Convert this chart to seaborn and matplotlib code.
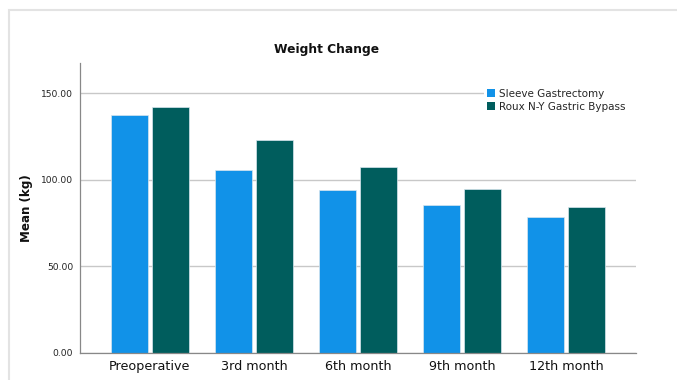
import matplotlib
matplotlib.use("Agg")
import matplotlib.pyplot as plt
import seaborn as sns
import pandas as pd
from matplotlib.patches import Rectangle, Patch

categories = ["Preoperative", "3rd month", "6th month", "9th month", "12th month"]
groups = ["Sleeve Gastrectomy", "Roux N-Y Gastric Bypass"]
sleeve = [137.7, 105.7, 94.0, 85.2, 78.7]
bypass = [141.8, 122.9, 107.3, 94.6, 84.1]
yticks = [0, 50, 100, 150]
ytick_labels = ["0.00", "50.00", "100.00", "150.00"]

df = pd.DataFrame({
    "Time": categories * 2,
    "Group": [groups[0]] * len(categories) + [groups[1]] * len(categories),
    "Mean": sleeve + bypass,
})

colors = ["#1192e8", "#005d5d"]

sns.set_theme(style="white")
plt.rcParams["font.family"] = ["DejaVu Sans"]

fig = plt.figure(figsize=(6.77, 3.80), dpi=100)
ax = fig.add_axes([80 / 677, 1 - 352.7 / 380, (636 - 80) / 677, (352.7 - 63) / 380])

sns.barplot(data=df, x="Time", y="Mean", hue="Group", order=categories,
            hue_order=groups, palette=colors, width=0.79, gap=0.1,
            edgecolor="#d8e6ee", linewidth=0.5, saturation=1, ax=ax, legend=False)

ax.set_ylim(0, 167.5)
ax.set_xlim(-0.67, 4.67)
ax.set_yticks(yticks)
ax.set_yticklabels(ytick_labels, fontsize=6.6, color="#222222")
ax.tick_params(axis="x", labelsize=9.2, length=0, pad=5, colors="#111111")
ax.tick_params(axis="y", length=0, pad=5)
ax.set_xlabel("")
ax.set_ylabel("Mean (kg)", fontsize=8.6, fontweight="bold", labelpad=6, color="#111111")
ax.yaxis.grid(True, color="#c8c8c8", linewidth=1.0)
ax.set_axisbelow(True)
for s in ["top", "right"]:
    ax.spines[s].set_visible(False)
for s in ["left", "bottom"]:
    ax.spines[s].set_color("#888888")
    ax.spines[s].set_linewidth(0.9)

fig.text(327 / 677, 1 - 50 / 380, "Weight Change", ha="center", va="center",
         fontsize=8.8, fontweight="bold", color="#111111")

# white legend background spanning to the right end of the plot
fig.add_artist(Rectangle((484 / 677, 1 - 114 / 380), (640 - 484) / 677, 28 / 380,
                         transform=fig.transFigure, facecolor="white",
                         edgecolor="none", zorder=2))

handles = [Patch(facecolor=c, edgecolor="none") for c in colors]
leg = fig.legend(handles, groups, loc="upper left",
                 bbox_to_anchor=(485 / 677, 1 - 87 / 380), frameon=False,
                 fontsize=7.5, handlelength=0.8, handleheight=0.8,
                 handletextpad=0.3, labelspacing=0.25, borderpad=0.2,
                 borderaxespad=0)
leg.set_zorder(5)

fig.add_artist(Rectangle((9 / 677, -0.05), 1.05, 1 - 10 / 380 + 0.05,
                         transform=fig.transFigure, fill=False,
                         edgecolor="#e3e3e3", linewidth=1.5))

fig.savefig("out.png", dpi=100)
